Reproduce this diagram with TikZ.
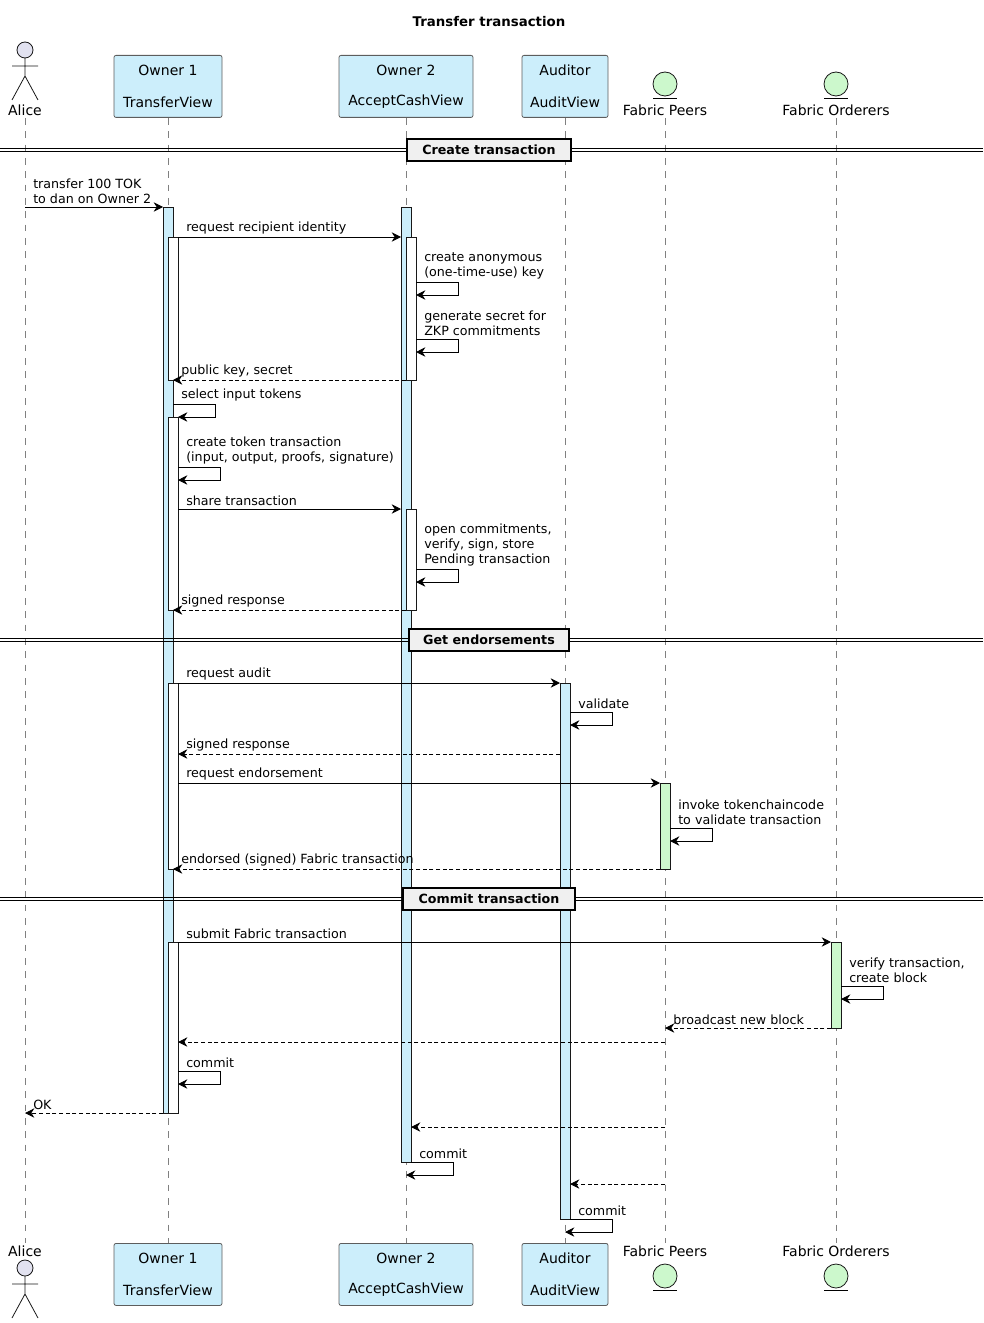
\documentclass[tikz,border=0pt]{standalone}
\usepackage{fontspec}
\setmainfont{DejaVu Sans}
\usetikzlibrary{arrows.meta}
\definecolor{barblue}{HTML}{CCEEFB}
\definecolor{bargreen}{HTML}{CCF8CC}
\definecolor{actorfill}{HTML}{E2E2F0}
\definecolor{edgegray}{HTML}{181818}
\tikzset{
  lifeline/.style={gray, dash pattern=on 5pt off 5pt, line width=0.4pt},
  headbox/.style={draw=edgegray!70, fill=barblue, rounded corners=1.5pt, line width=0.6pt},
  actbar/.style={draw=edgegray, fill=barblue, line width=0.6pt},
  innerbar/.style={draw=edgegray, fill=white, line width=0.6pt},
  greenbar/.style={draw=edgegray, fill=bargreen, line width=0.6pt},
  msgline/.style={-{Stealth[length=7pt,width=7pt]}, line width=0.6pt},
  retline/.style={msgline, dash pattern=on 3pt off 2pt},
  lbl/.style={font=\fontsize{9.5}{11}\selectfont, inner sep=0pt, align=left},
  part/.style={font=\fontsize{10.5}{12}\selectfont, inner sep=0pt}
}
% message with label above, y down
\newcommand{\msg}[5][msgline]{%
  \draw[#1] (#3,#2) -- (#4,#2);
  \node[lbl, anchor=south west] at ({min(#3,#4)+8},#2-3) {#5};}
\newcommand{\selfmsg}[4]{% y, x from, x back, label
  \draw[msgline] (#2,#1) -- (#2+42,#1) -- (#2+42,#1+13) -- (#3,#1+13);
  \node[lbl, anchor=south west] at (#2+8,#1-3) {#4};}
\newcommand{\divider}[3]{%
  \draw[line width=0.6pt] (0,#1-1.5) -- (983,#1-1.5) (0,#1+1.5) -- (983,#1+1.5);
  \node[draw, line width=0.8pt, fill=gray!12, font=\bfseries\fontsize{9.5}{11}\selectfont, minimum width=#2*0.75pt, minimum height=22*0.75pt] (#3) at (489,#1) {#3};}

\begin{document}
\begin{tikzpicture}[x=0.75pt, y=-0.75pt]
    \useasboundingbox (0,0) rectangle (983,1323);
    \node[font=\bfseries\fontsize{10}{12}\selectfont] (title) at (489,22) {Transfer transaction};

    % lifelines
    \foreach \x in {25,168,406,565,665,836}
        \draw[lifeline] (\x,118) -- (\x,1243);

    % participants, top and bottom
    \foreach \y/\s in {55/t,1243/b} {
        \node[headbox, minimum width=108*0.75pt, minimum height=62*0.75pt, anchor=north] (own1\s) at (168,\y) {};
        \node[headbox, minimum width=134*0.75pt, minimum height=62*0.75pt, anchor=north] (own2\s) at (406,\y) {};
        \node[headbox, minimum width=86*0.75pt, minimum height=62*0.75pt, anchor=north] (aud\s) at (565,\y) {};
        \node[part] at (168,\y+15) {Owner 1};
        \node[part] at (168,\y+47) {TransferView};
        \node[part] at (406,\y+15) {Owner 2};
        \node[part] at (406,\y+47) {AcceptCashView};
        \node[part] at (565,\y+15) {Auditor};
        \node[part] at (565,\y+47) {AuditView};
    }
    \node[part] (alicet) at (25,110) {Alice};
    \node[part] (aliceb) at (25,1251) {Alice};
    \foreach \y in {42,1260} {
        \draw[fill=actorfill, draw=edgegray, line width=0.6pt] (25,\y+8) circle (8);
        \draw[line width=0.6pt, edgegray] (25,\y+16) -- (25,\y+34) (12,\y+24) -- (38,\y+24)
            (12,\y+58) -- (25,\y+34) -- (38,\y+58);
    }
    \node[part] (peerst) at (665,110) {Fabric Peers};
    \node[part] (peersb) at (665,1251) {Fabric Peers};
    \node[part] (ordt) at (836,110) {Fabric Orderers};
    \node[part] (ordb) at (836,1251) {Fabric Orderers};
    \foreach \x in {665,836} \foreach \y in {84,1276} {
        \draw[fill=bargreen, draw=edgegray, line width=0.6pt] (\x,\y) circle (12);
        \draw[line width=0.6pt] (\x-12,\y+14) -- (\x+12,\y+14);
    }

    % activations
    \draw[actbar] (163,207) rectangle (173,1113);
    \draw[actbar] (401,207) rectangle (411,1162);
    \draw[actbar] (560,683) rectangle (570,1219);
    \foreach \a/\b in {237/380,417/610,683/869,942/1113}
        \draw[innerbar] (168,\a) rectangle (178,\b);
    \foreach \a/\b in {237/380,509/610}
        \draw[innerbar] (406,\a) rectangle (416,\b);
    \draw[greenbar] (660,783) rectangle (670,869);
    \draw[greenbar] (831,942) rectangle (841,1028);

    % Create transaction
    \divider{150}{164}{Create transaction}
    \msg{207}{25}{163}{transfer 100 TOK\\to dan on Owner 2}
    \msg{237}{178}{401}{request recipient identity}
    \selfmsg{282}{416}{416}{create anonymous\\(one-time-use) key}
    \selfmsg{339}{416}{416}{generate secret for\\ZKP commitments}
    \msg[retline]{380}{406}{173}{public key, secret}
    \selfmsg{404}{173}{178}{select input tokens}
    \selfmsg{467}{178}{178}{create token transaction\\(input, output, proofs, signature)}
    \msg{509}{178}{401}{share transaction}
    \selfmsg{569}{416}{416}{open commitments,\\verify, sign, store\\Pending transaction}
    \msg[retline]{610}{406}{173}{signed response}

    % Get endorsements
    \divider{640}{160}{Get endorsements}
    \msg{683}{178}{560}{request audit}
    \selfmsg{712}{570}{570}{validate}
    \msg[retline]{754}{560}{178}{signed response}
    \msg{783}{178}{660}{request endorsement}
    \selfmsg{828}{670}{670}{invoke tokenchaincode\\to validate transaction}
    \msg[retline]{869}{660}{173}{endorsed (signed) Fabric transaction}

    % Commit transaction
    \divider{899}{172}{Commit transaction}
    \msg{942}{178}{831}{submit Fabric transaction}
    \selfmsg{986}{841}{841}{verify transaction,\\create block}
    \msg[retline]{1028}{831}{665}{broadcast new block}
    \draw[retline] (665,1042) -- (178,1042);
    \selfmsg{1071}{178}{178}{commit}
    \msg[retline]{1113}{163}{25}{OK}
    \draw[retline] (665,1127) -- (411,1127);
    \selfmsg{1162}{411}{406}{commit}
    \draw[retline] (665,1184) -- (570,1184);
    \selfmsg{1219}{570}{565}{commit}
\end{tikzpicture}
\end{document}
